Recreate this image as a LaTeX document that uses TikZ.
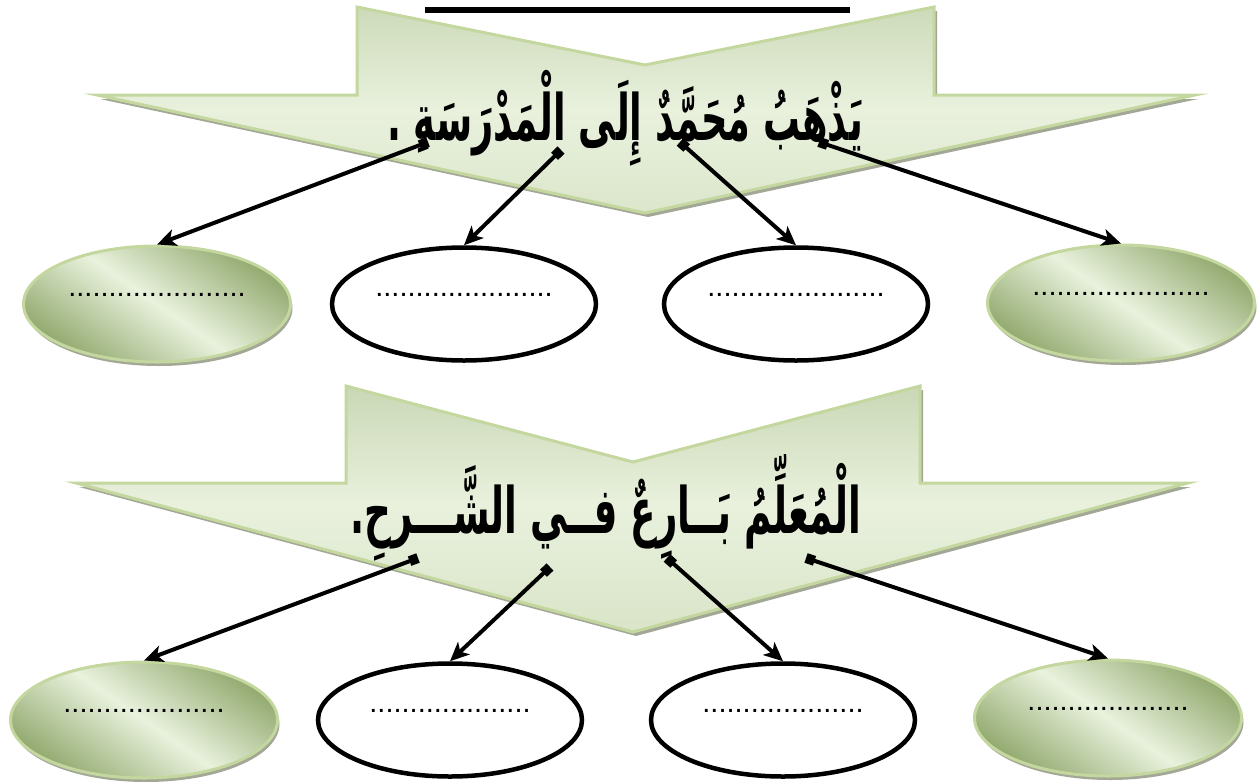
\documentclass[tikz,border=0pt]{standalone}
\usepackage{fontspec}
\setmainfont{Liberation Serif}
\newfontfamily\arabicfont[Script=Arabic]{DejaVu Sans}
\newfontfamily\dotfont{Liberation Sans}
\TeXXeTstate=1
\usetikzlibrary{shapes.geometric,arrows.meta,shadows}
\definecolor{chlight}{HTML}{E9F1DD}
\definecolor{chdark}{HTML}{8CA567}
\definecolor{chmid}{HTML}{BDCDA2}
\definecolor{chline}{HTML}{C4D79F}
\definecolor{shad}{HTML}{A3A796}
\definecolor{eldark}{HTML}{93AA70}
\definecolor{ellight}{HTML}{E9F2DD}
\begin{document}
\begin{tikzpicture}[x=1pt,y=1pt,
  chevshadow/.style={fill=shad},
  chevline/.style={draw=chline, line width=3pt, line join=miter},
  chevshade/.style={top color=chdark, bottom color=chmid, middle color=chlight},
  arabictext/.style={inner sep=0pt, font=\arabicfont\bfseries\fontsize{40}{48}\selectfont},
  greenell/.style={ellipse, draw=chline, line width=3pt, top color=eldark, bottom color=eldark, middle color=ellight, shading angle=-35, inner sep=0pt, minimum width=267pt, minimum height=116pt, drop shadow={opacity=1, fill=shad, shadow xshift=2pt, shadow yshift=-4pt}},
  whiteell/.style={ellipse, draw=black, line width=4.5pt, fill=white, inner sep=0pt, minimum width=264pt, minimum height=113pt},
  dotsty/.style={inner sep=0pt, font=\dotfont\fontsize{29}{30}\selectfont},
  conn/.style={line width=4pt, {Square[length=9pt,width=10pt]}-{Stealth[length=19pt,width=17pt,inset=5pt]}}
]
\useasboundingbox (0,0) rectangle (1259,-782);

% title underline (title text is cut off above the picture)
\fill[black] (425,-7) rectangle (850,-13);

% top chevron
\fill[chevshadow, shift={(3,-4)}] (357,-7) -- (645,-65) -- (934,-7) -- (934,-95) -- (1195,-95) -- (645,-213) -- (97,-95) -- (357,-95) -- cycle;
\begin{scope}
\clip (357,-7) -- (645,-65) -- (934,-7) -- (934,-95) -- (1195,-95) -- (645,-213) -- (97,-95) -- (357,-95) -- cycle;
\shade[chevshade, rotate around={-15:(645,-110)}] (-5,-290) rectangle (1295,70);
\end{scope}
\draw[chevline] (357,-7) -- (645,-65) -- (934,-7) -- (934,-95) -- (1195,-95) -- (645,-213) -- (97,-95) -- (357,-95) -- cycle;

% bottom chevron
\fill[chevshadow, shift={(3,-4)}] (346,-386) -- (633,-462) -- (920,-386) -- (920,-483) -- (1188,-483) -- (633,-632) -- (76,-483) -- (346,-483) -- cycle;
\begin{scope}
\clip (346,-386) -- (633,-462) -- (920,-386) -- (920,-483) -- (1188,-483) -- (633,-632) -- (76,-483) -- (346,-483) -- cycle;
\shade[chevshade, rotate around={-15:(633,-505)}] (-17,-700) rectangle (1283,-310);
\end{scope}
\draw[chevline] (346,-386) -- (633,-462) -- (920,-386) -- (920,-483) -- (1188,-483) -- (633,-632) -- (76,-483) -- (346,-483) -- cycle;

% sentences
\node[arabictext] (t1) at (625,-118) {\scalebox{0.92}[1.6]{\beginR يَذْهَبُ مُحَمَّدٌ إِلَى الْمَدْرَسَةِ .\endR}};
\node[arabictext] (t2) at (606,-508) {\scalebox{0.93}[1.6]{\beginR الْمُعَلِّمُ بَــارِعٌ فــي الشَّـــرحِ.\endR}};

% row 1 ellipses
\node[greenell] (e1) at (157,-304) {};
\node[whiteell] (e2) at (464,-304) {};
\node[whiteell] (e3) at (796,-304) {};
\node[greenell] (e4) at (1121,-303) {};
\node[dotsty] (d1) at ([yshift=9pt]e1.center) {......................};
\node[dotsty] (d2) at ([yshift=9pt]e2.center) {......................};
\node[dotsty] (d3) at ([yshift=9pt]e3.center) {......................};
\node[dotsty] (d4) at ([yshift=9pt]e4.center) {......................};

% row 2 ellipses
\node[greenell] (e5) at (144,-720) {};
\node[whiteell] (e6) at (450,-720) {};
\node[whiteell] (e7) at (783,-720) {};
\node[greenell] (e8) at (1108,-718) {};
\node[dotsty] (d5) at ([yshift=9pt]e5.center) {....................};
\node[dotsty] (d6) at ([yshift=9pt]e6.center) {....................};
\node[dotsty] (d7) at ([yshift=9pt]e7.center) {....................};
\node[dotsty] (d8) at ([yshift=9pt]e8.center) {....................};

% arrow starts
\coordinate (a1) at (428,-142);
\coordinate (a2) at (561,-150);
\coordinate (a3) at (680,-142);
\coordinate (a4) at (819,-142);
\coordinate (b1) at (418,-558);
\coordinate (b2) at (550,-567);
\coordinate (b3) at (667,-558);
\coordinate (b4) at (806,-558);

\draw[conn] (a1) -- (e1.north);
\draw[conn] (a2) -- (e2.north);
\draw[conn] (a3) -- (e3.north);
\draw[conn] (a4) -- (e4.north);
\draw[conn] (b1) -- (e5.north);
\draw[conn] (b2) -- (e6.north);
\draw[conn] (b3) -- (e7.north);
\draw[conn] (b4) -- (e8.north);
\end{tikzpicture}
\end{document}
